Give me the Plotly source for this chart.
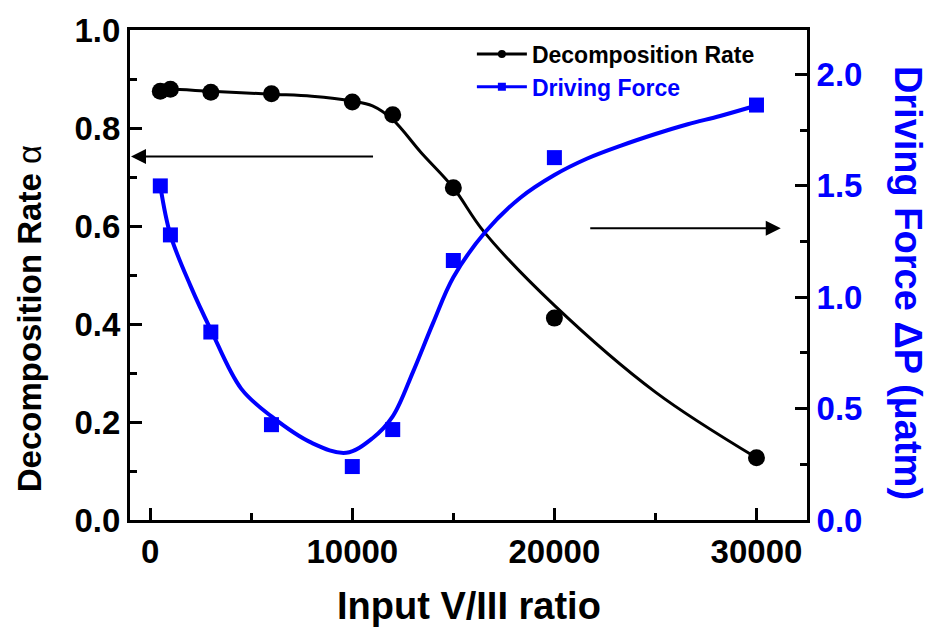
import plotly.graph_objects as go

# ---- data ----
ratio = [500, 1000, 3000, 6000, 10000, 12000, 15000, 20000, 30000]
decomp_rate = [0.875, 0.879, 0.873, 0.870, 0.853, 0.827, 0.678, 0.412, 0.127]
driving_force = [1.50, 1.28, 0.844, 0.428, 0.240, 0.406, 1.165, 1.627, 1.863]

# smoothed guide curves
dr_curve_x = [500, 1000, 3000, 6000, 8000, 10000, 11000, 12000, 13400, 15000, 16500, 20000, 25000, 30000]
dr_curve_y = [0.878, 0.879, 0.875, 0.869, 0.865, 0.855, 0.845, 0.817, 0.750, 0.678, 0.589, 0.438, 0.261, 0.127]
df_curve_x = [500, 1000, 2000, 3000, 4500, 6000, 8000, 9700, 11000, 12000, 13000, 14000,
              15000, 16600, 18300, 20000, 21600, 23300, 25000, 26600, 28200, 30000]
df_curve_y = [1.50, 1.28, 1.05, 0.854, 0.59, 0.465, 0.346, 0.302, 0.367, 0.465, 0.664, 0.885,
              1.09, 1.295, 1.446, 1.549, 1.622, 1.681, 1.733, 1.777, 1.814, 1.861]

x_ticks = [0, 10000, 20000, 30000]
x_ticktext = ["0", "10000", "20000", "30000"]
BLUE = "#0000FF"
FONT = "Liberation Sans, Arial, sans-serif"

fig = go.Figure()

fig.add_trace(go.Scatter(x=dr_curve_x, y=dr_curve_y, mode="lines",
                         line=dict(color="black", width=3, shape="spline", smoothing=1.0),
                         showlegend=False, hoverinfo="skip"))
fig.add_trace(go.Scatter(x=df_curve_x, y=df_curve_y, mode="lines", yaxis="y2",
                         line=dict(color=BLUE, width=4, shape="spline", smoothing=1.0),
                         showlegend=False, hoverinfo="skip"))
fig.add_trace(go.Scatter(x=ratio, y=decomp_rate, mode="markers",
                         marker=dict(symbol="circle", size=17, color="black"),
                         showlegend=False))
fig.add_trace(go.Scatter(x=ratio, y=driving_force, mode="markers", yaxis="y2",
                         marker=dict(symbol="square", size=15, color=BLUE),
                         showlegend=False))

# legend entries
fig.add_trace(go.Scatter(x=[None], y=[None], mode="lines+markers",
                         name="Decomposition Rate",
                         line=dict(color="black", width=3),
                         marker=dict(symbol="circle", size=8, color="black")))
fig.add_trace(go.Scatter(x=[None], y=[None], mode="lines+markers", yaxis="y2",
                         name="<span style='color:#0000FF'>Driving Force</span>",
                         line=dict(color=BLUE, width=3),
                         marker=dict(symbol="square", size=8, color=BLUE)))

axis_common = dict(showline=True, linewidth=3, linecolor="black", showgrid=False,
                   zeroline=False, ticks="inside", ticklen=12, tickwidth=3,
                   tickcolor="black")

fig.update_layout(
    width=935, height=635,
    margin=dict(l=130, r=128, t=22, b=115),
    plot_bgcolor="white", paper_bgcolor="white",
    font=dict(family=FONT, color="black"),
    xaxis=dict(range=[-1000, 32500], tickvals=x_ticks, ticktext=x_ticktext, mirror=True,
               tickfont=dict(size=33, weight="bold", family=FONT),
               minor=dict(dtick=5000, tick0=0, ticks="inside", ticklen=7, tickwidth=3,
                          tickcolor="black", showgrid=False),
               **axis_common),
    yaxis=dict(range=[0, 1.0], dtick=0.2, tick0=0, tickformat=".1f",
               tickfont=dict(size=33, weight="bold", family=FONT),
               minor=dict(dtick=0.1, ticks="inside", ticklen=7, tickwidth=3,
                          tickcolor="black", showgrid=False),
               **axis_common),
    yaxis2=dict(range=[0, 2.2], dtick=0.5, tick0=0, tickformat=".1f",
                overlaying="y", side="right",
                tickfont=dict(size=33, weight="bold", family=FONT, color=BLUE),
                minor=dict(dtick=0.25, ticks="inside", ticklen=7, tickwidth=3,
                           tickcolor="black", showgrid=False),
                **axis_common),
    legend=dict(x=0.505, y=0.995, xanchor="left", yanchor="top",
                bgcolor="rgba(0,0,0,0)", itemwidth=50, tracegroupgap=0,
                font=dict(size=23, weight="bold", family=FONT, color="black")),
)

annotations = [
    dict(text="<b>Input V/III ratio</b>", xref="paper", yref="paper",
         x=0.5007, y=-0.1747, xanchor="center", yanchor="middle", showarrow=False,
         font=dict(size=38, family=FONT, color="black")),
    dict(text="<b>Decomposition Rate</b> α", xref="paper", yref="paper",
         x=-0.1492, y=0.4116, xanchor="center", yanchor="middle", showarrow=False,
         textangle=-90, font=dict(size=33, family=FONT, color="black")),
    dict(text="<b>Driving Force ΔP (μatm)</b>", xref="paper", yref="paper",
         x=1.1492, y=0.4839, xanchor="center", yanchor="middle", showarrow=False,
         textangle=90, font=dict(size=38, family=FONT, color=BLUE)),
    # arrows pointing at the axes
    dict(x=-950, y=0.742, ax=11100, ay=0.742, xref="x", yref="y", axref="x", ayref="y",
         text="", showarrow=True, arrowhead=2, arrowsize=1.5, arrowwidth=2, arrowcolor="black"),
    dict(x=31200, y=1.31, ax=21700, ay=1.31, xref="x", yref="y2", axref="x", ayref="y2",
         text="", showarrow=True, arrowhead=2, arrowsize=1.5, arrowwidth=2, arrowcolor="black"),
]
fig.update_layout(annotations=annotations)

fig.write_html("out.html")
